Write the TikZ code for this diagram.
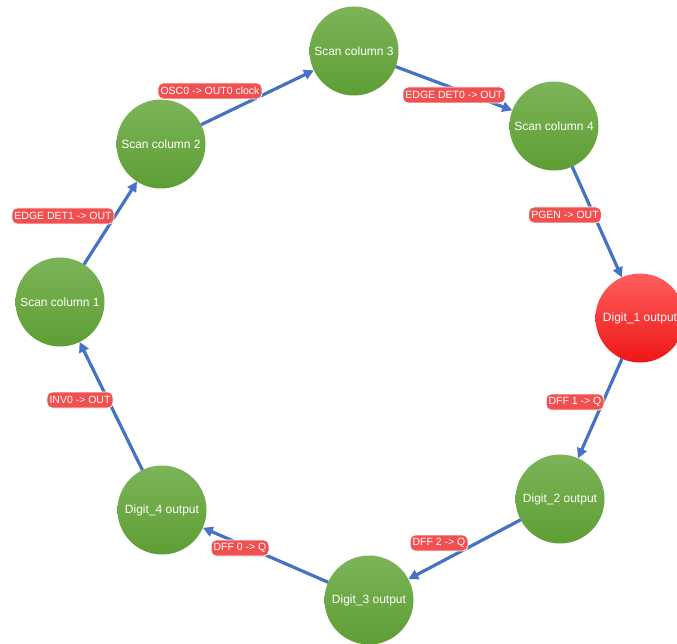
\documentclass[tikz,border=0pt]{standalone}
\usepackage{fontspec}
\setmainfont{Liberation Sans}
\usetikzlibrary{arrows.meta}
\definecolor{gtop}{RGB}{124,180,88}
\definecolor{gbot}{RGB}{94,158,52}
\definecolor{rtop}{RGB}{255,95,95}
\definecolor{rbot}{RGB}{238,22,22}
\definecolor{lab}{RGB}{240,80,80}
\definecolor{edgeblue}{RGB}{68,114,196}
\begin{document}
\begin{tikzpicture}[x=1pt,y=-1pt,
 state/.style={circle, minimum size=89pt, inner sep=0pt, outer sep=0pt, top color=gtop, bottom color=gbot, text=white, font=\fontsize{12}{14}\selectfont},
 hot/.style={state, top color=rtop, bottom color=rbot},
 lbl/.style={fill=lab, draw=white, line width=0.8pt, rounded corners=5pt, text=white, font=\fontsize{10.5}{12}\selectfont, inner xsep=2.5pt, inner ysep=1pt, minimum height=16pt},
 conn/.style={draw=edgeblue, line width=3.2pt, -{Triangle[length=10pt,width=10pt]}}]
\useasboundingbox (0,0) rectangle (677,644);
\clip (0,0) rectangle (677,644);
\fill[white] (0,0) rectangle (677,644);
\node[state] (s3) at (354,51) {Scan column 3};
\node[state] (s2) at (161,144) {Scan column 2};
\node[state] (s4) at (554,126) {Scan column 4};
\node[hot]   (d1) at (640,318) {Digit\_1 output};
\node[state] (d2) at (560,499) {Digit\_2 output};
\node[state] (d3) at (369,600) {Digit\_3 output};
\node[state] (d4) at (162,510) {Digit\_4 output};
\node[state] (s1) at (60,302) {Scan column 1};
\draw[conn] (s1) -- (s2);
\draw[conn] (s2) -- (s3);
\draw[conn] (s3) -- (s4);
\draw[conn] (s4) -- (d1);
\draw[conn] (d1) -- (d2);
\draw[conn] (d2) -- (d3);
\draw[conn] (d3) -- (d4);
\draw[conn] (d4) -- (s1);
\node[lbl] (l1) at (210,91) {OSC0 -> OUT0 clock};
\node[lbl] (l2) at (454,95) {EDGE DET0 -> OUT};
\node[lbl] (l3) at (565,215) {PGEN -> OUT};
\node[lbl] (l4) at (575,402) {DFF 1 -> Q};
\node[lbl] (l5) at (439,543) {DFF 2 -> Q};
\node[lbl] (l6) at (240,548) {DFF 0 -> Q};
\node[lbl] (l7) at (63,216) {EDGE DET1 -> OUT};
\node[lbl] (l8) at (80,400) {INV0 -> OUT};
\end{tikzpicture}
\end{document}
